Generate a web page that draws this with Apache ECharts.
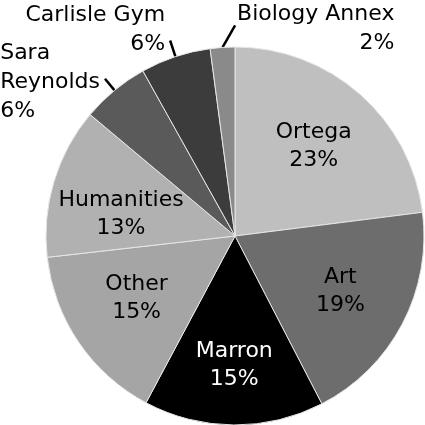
<!DOCTYPE html>
<html><head><meta charset="utf-8">
<script src="https://cdn.jsdelivr.net/npm/echarts@6/dist/echarts.min.js"></script>
<style>html,body{margin:0;padding:0;background:#fff}#c{width:425px;height:425px}</style>
</head><body><div id="c"></div>
<script>
const categories = ['Ortega', 'Art', 'Marron', 'Other', 'Humanities', 'Sara Reynolds', 'Carlisle Gym', 'Biology Annex'];
const shares = [23.0, 19.4, 15.4, 15.4, 12.9, 5.8, 6.0, 2.1];
const sliceColors = ['#bfbfbf', '#6d6d6e', '#000000', '#a5a5a5', '#b1b1b1', '#5a5a5a', '#3c3c3c', '#8a8a8a'];

const FONT = 'DejaVu Sans';
const CENTER = [235, 236];
const R = 189;
const outside = [false, false, false, false, false, true, true, true];
const lineLen = [0, 0, 0, 0, 0, 15, 17, 22];
// small vertical nudges of the label blocks (px)
const nudgeIn = [0, 0, 10, -5, 13, 0, 0, 0];
const nudgeOut = [0, 0, 0, 0, 0, 3, -11, 3];

function fmt(p) {
  const name = p.dataIndex === 5 ? p.name.replace(' ', '\n') : p.name;
  return name + '\n' + Math.round(p.value) + '%';
}

const mainData = categories.map((c, i) => ({
  name: c,
  value: shares[i],
  itemStyle: { color: sliceColors[i] },
  label: { show: outside[i] },
  labelLine: { show: outside[i], length: lineLen[i], length2: 0 }
}));

const overlayData = categories.map((c, i) => {
  const lbl = { show: !outside[i] };
  if (i === 2) lbl.color = '#ffffff';
  return { name: c, value: shares[i], label: lbl };
});

const chart = echarts.init(document.getElementById('c'));
chart.setOption({
  animation: false,
  backgroundColor: '#ffffff',
  series: [
    {
      type: 'pie',
      center: CENTER,
      radius: [0, R],
      startAngle: 90,
      clockwise: true,
      avoidLabelOverlap: false,
      silent: true,
      data: mainData,
      itemStyle: { borderColor: '#e6e6e6', borderWidth: 1 },
      label: {
        position: 'outside',
        formatter: fmt,
        fontFamily: FONT,
        fontSize: 22,
        lineHeight: 29,
        color: '#000000'
      },
      labelLine: { lineStyle: { color: '#000000', width: 2.5 } },
      labelLayout: function (p) {
        const rc = p.labelRect;
        const pts = p.labelLinePoints;
        const cy = rc.y + rc.height / 2 + nudgeOut[p.dataIndex];
        if (p.dataIndex === 5) {
          return { x: rc.x, y: cy, align: 'left', labelLinePoints: pts };
        }
        if (p.dataIndex === 7) {
          const end = pts[pts.length - 1];
          const left = end[0] + 16;
          const newEnd = [left - 2, end[1]];
          return { x: left + rc.width, y: cy, align: 'right', labelLinePoints: [pts[0], newEnd, newEnd] };
        }
        return { x: rc.x + rc.width, y: cy, align: 'right', labelLinePoints: pts };
      },
      emphasis: { disabled: true }
    },
    {
      type: 'pie',
      center: CENTER,
      radius: [0, 232],
      startAngle: 90,
      clockwise: true,
      silent: true,
      avoidLabelOverlap: false,
      data: overlayData,
      itemStyle: { color: 'rgba(0,0,0,0)', borderWidth: 0 },
      label: {
        position: 'inside',
        formatter: fmt,
        fontFamily: FONT,
        fontSize: 22,
        lineHeight: 28,
        color: '#000000'
      },
      labelLine: { show: false },
      labelLayout: function (p) {
        const rc = p.labelRect;
        return { x: rc.x + rc.width / 2, y: rc.y + rc.height / 2 + nudgeIn[p.dataIndex], align: 'center', verticalAlign: 'middle' };
      },
      emphasis: { disabled: true }
    }
  ]
});
</script>
</body></html>
